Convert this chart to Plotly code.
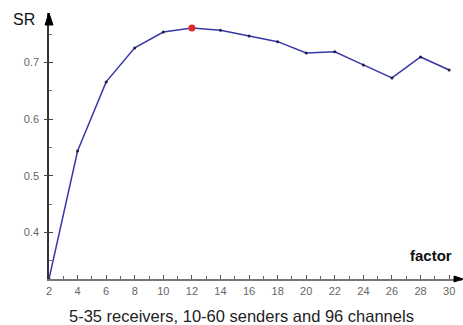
import plotly.graph_objects as go

factor = [2, 4, 6, 8, 10, 12, 14, 16, 18, 20, 22, 24, 26, 28, 30]
sr = [0.318, 0.544, 0.666, 0.726, 0.754, 0.761, 0.757, 0.747, 0.737, 0.717, 0.719, 0.696, 0.673, 0.710, 0.687]
best_factor = [12]
best_sr = [0.761]
x_ticks = list(range(2, 31, 2))
y_ticks = [0.4, 0.5, 0.6, 0.7]

fig = go.Figure()
fig.add_trace(go.Scatter(x=factor, y=sr, mode="lines+markers",
                         line=dict(color="#3838a8", width=1.5),
                         marker=dict(color="#202040", size=3),
                         showlegend=False, hoverinfo="skip"))
fig.add_trace(go.Scatter(x=best_factor, y=best_sr, mode="markers",
                         marker=dict(color="#e02828", size=7),
                         showlegend=False, hoverinfo="skip"))
# helper trace to make secondary y axis (crossing ticks) render
fig.add_trace(go.Scatter(x=[factor[0]], y=[sr[0]], yaxis="y2", mode="markers",
                         marker=dict(opacity=0), showlegend=False, hoverinfo="skip"))

fig.update_layout(
    width=463, height=325,
    margin=dict(l=49, r=1, t=13, b=46),
    paper_bgcolor="white", plot_bgcolor="white",
    font=dict(family="Liberation Sans, Arial, sans-serif"),
    xaxis=dict(range=[2, 30.9], tickvals=x_ticks, ticktext=[str(v) for v in x_ticks],
               showgrid=False, zeroline=False, showline=True, linecolor="#777777", linewidth=1.5,
               ticks="inside", ticklen=4, tickcolor="#555555", tickwidth=1,
               minor=dict(dtick=1, tick0=1, ticks="inside", ticklen=3, tickcolor="#666666"),
               tickfont=dict(size=11, color="#666666"), ticklabelstandoff=1),
    yaxis=dict(range=[0.318, 0.7876], tickvals=y_ticks, ticktext=[str(v) for v in y_ticks],
               showgrid=False, zeroline=False, showline=True, linecolor="#333333", linewidth=1.5,
               ticks="inside", ticklen=4, tickcolor="#444444",
               minor=dict(dtick=0.05, tick0=0.35, ticks="inside", ticklen=3, tickcolor="#777777"),
               tickfont=dict(size=11, color="#666666"), ticklabelstandoff=6),
    yaxis2=dict(range=[0.318, 0.7876], overlaying="y", anchor="x", side="left",
                tickvals=y_ticks, showticklabels=False, showgrid=False, zeroline=False,
                ticks="outside", ticklen=4, tickcolor="#444444", showline=False),
    shapes=[
        dict(type="path", xref="paper", yref="paper", xsizemode="pixel", ysizemode="pixel",
             xanchor=0, yanchor=1, path="M 0 0 L -4 -12 L 4 -12 Z",
             fillcolor="black", line=dict(color="black", width=1)),
        dict(type="path", xref="paper", yref="paper", xsizemode="pixel", ysizemode="pixel",
             xanchor=1, yanchor=0, path="M 1 0 L -8 3 L -8 -3 Z",
             fillcolor="black", line=dict(color="black", width=1)),
    ],
    annotations=[
        dict(text="SR", xref="paper", yref="paper", x=-0.0617, y=0.977, showarrow=False,
             font=dict(size=16, color="#111111"), xanchor="center", yanchor="middle"),
        dict(text="<b>factor</b>", xref="paper", yref="paper", x=0.924, y=0.0865, showarrow=False,
             font=dict(size=15, color="#111111"), xanchor="center", yanchor="middle"),
        dict(text="5-35 receivers, 10-60 senders and 96 channels", xref="paper", yref="paper",
             x=0.467, y=-0.139, showarrow=False, font=dict(size=16.5, color="#222222"),
             xanchor="center", yanchor="middle"),
    ],
)
fig.write_html("out.html", config={"displayModeBar": False},
               post_script="document.body.style.margin='0';document.body.style.overflow='hidden';")
